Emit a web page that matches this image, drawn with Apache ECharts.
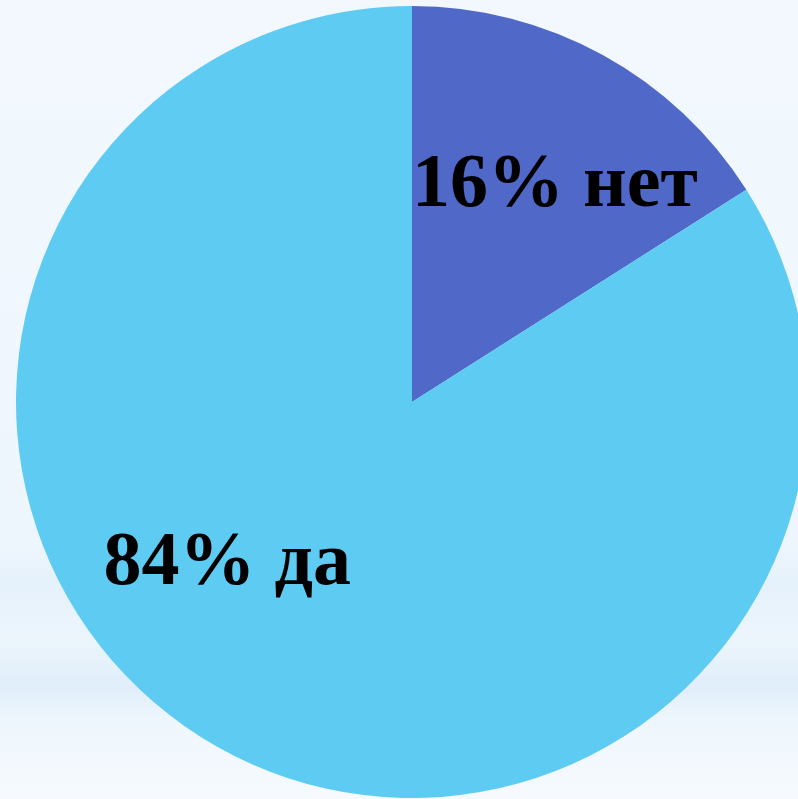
<!DOCTYPE html>
<html>
<head>
<meta charset="utf-8">
<script src="https://cdn.jsdelivr.net/npm/echarts@6/dist/echarts.min.js"></script>
<style>
    html, body { margin: 0; padding: 0; }
    #chart { width: 798px; height: 799px; }
</style>
</head>
<body>
<div id="chart"></div>
<script>
    // данные диаграммы
    const categories = ['нет', 'да'];
    const values = [16, 84];
    const colors = ['#5068C8', '#5ECCF2'];
    // сдвиг подписей относительно стандартного положения inside
    const labelOffsets = [[46, -40], [-88, -14]];

    const chart = echarts.init(document.getElementById('chart'));

    const seriesData = categories.map((name, i) => ({
        name: name,
        value: values[i],
        itemStyle: { color: colors[i] },
        label: { offset: labelOffsets[i] }
    }));

    const option = {
        backgroundColor: {
            type: 'linear', x: 0, y: 0, x2: 0, y2: 1,
            colorStops: [
                { offset: 0, color: '#F2F8FE' },
                { offset: 0.68, color: '#EEF6FD' },
                { offset: 0.73, color: '#E5F1FB' },
                { offset: 0.8, color: '#ECF5FC' },
                { offset: 0.86, color: '#E0EEFA' },
                { offset: 0.9, color: '#EEF6FD' },
                { offset: 1, color: '#F6FAFE' }
            ]
        },
        animation: false,
        series: [
            {
                type: 'pie',
                center: [412, 402],
                radius: 396,
                startAngle: 90,
                clockwise: true,
                data: seriesData,
                label: {
                    show: true,
                    position: 'inside',
                    formatter: '{d}% {b}',
                    fontFamily: '"Liberation Serif", "Times New Roman", serif',
                    fontWeight: 'bold',
                    fontSize: 76,
                    color: '#000'
                },
                labelLine: { show: false },
                emphasis: { disabled: true }
            }
        ]
    };
    chart.setOption(option);
</script>
</body>
</html>
